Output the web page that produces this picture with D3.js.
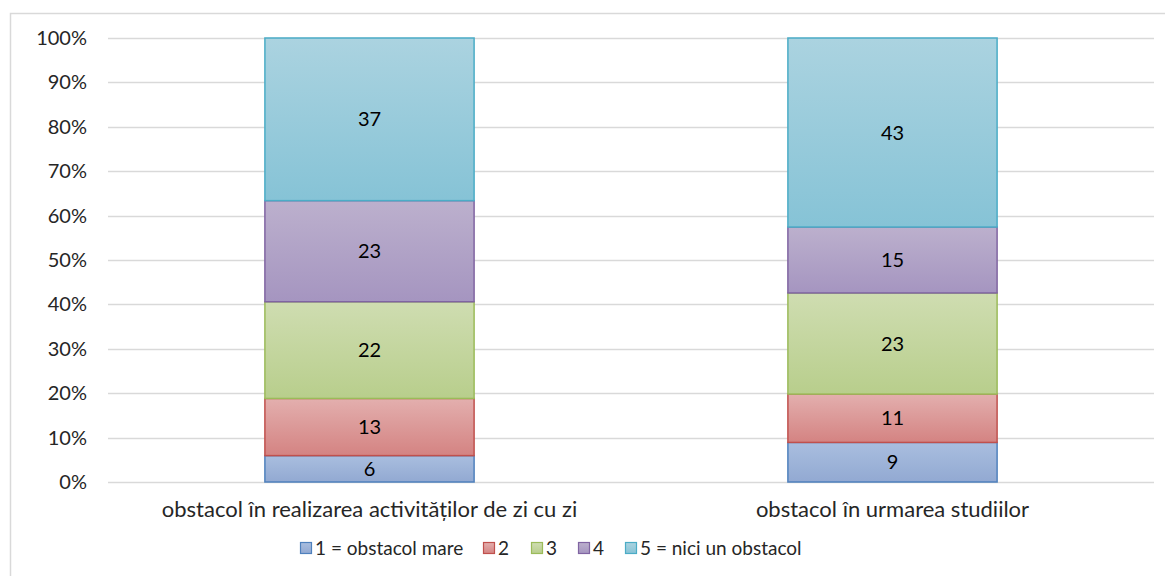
<!DOCTYPE html>
<html>
<head>
<meta charset="utf-8">
<script src="https://cdn.jsdelivr.net/npm/d3@7"></script>
<style>
  body { margin: 0; background: #fff; }
  svg { display: block; font-family: Lato, "Open Sans", sans-serif; }
</style>
</head>
<body>
<div id="chart"></div>
<script>
const categories = ["obstacol în realizarea activităților de zi cu zi", "obstacol în urmarea studiilor"];
const seriesNames = ["1 = obstacol mare", "2", "3", "4", "5 = nici un obstacol"];
const values1 = [6, 9];
const values2 = [13, 11];
const values3 = [22, 23];
const values4 = [23, 15];
const values5 = [37, 43];
const yTicks = [0, 0.1, 0.2, 0.3, 0.4, 0.5, 0.6, 0.7, 0.8, 0.9, 1];

const seriesColors = [
  { top: "#a9bedf", bottom: "#92a9d2", stroke: "#4f81bd" },
  { top: "#e3afae", bottom: "#d48382", stroke: "#c0504d" },
  { top: "#cfddb1", bottom: "#b8ce8c", stroke: "#9bbb59" },
  { top: "#bcb0cd", bottom: "#a595c0", stroke: "#8064a2" },
  { top: "#abd3e0", bottom: "#86c3d6", stroke: "#4bacc6" }
];

const W = 1165, H = 576;
const margin = { top: 38, right: 11, bottom: 94, left: 108 };
const width = W - margin.left - margin.right;
const height = H - margin.top - margin.bottom;

const svg = d3.select("#chart").append("svg")
  .attr("width", W)
  .attr("height", H);

// outer chart border
svg.append("rect")
  .attr("x", 10.5).attr("y", 13.5)
  .attr("width", 1170).attr("height", 600)
  .attr("fill", "none")
  .attr("stroke", "#d9d9d9")
  .attr("stroke-width", 1.5);

const defs = svg.append("defs");
seriesColors.forEach((c, i) => {
  const g = defs.append("linearGradient")
    .attr("id", "grad" + i)
    .attr("x1", 0).attr("y1", 0).attr("x2", 0).attr("y2", 1);
  g.append("stop").attr("offset", "0%").attr("stop-color", c.top);
  g.append("stop").attr("offset", "100%").attr("stop-color", c.bottom);
});

const g = svg.append("g")
  .attr("transform", `translate(${margin.left},${margin.top})`);

const x = d3.scaleBand().domain(categories).range([0, width]).paddingInner(0.6).paddingOuter(0.3);
const y = d3.scaleLinear().domain([0, 1]).range([height, 0]);

// gridlines
g.selectAll(".grid")
  .data(yTicks)
  .enter().append("line")
  .attr("class", "grid")
  .attr("x1", 0).attr("x2", width)
  .attr("y1", d => Math.round(y(d)) + 0.5)
  .attr("y2", d => Math.round(y(d)) + 0.5)
  .attr("stroke", "#d9d9d9")
  .attr("stroke-width", 1.3);

// y axis labels
const yAxis = g.append("g")
  .call(d3.axisLeft(y).tickValues(yTicks).tickFormat(d3.format(".0%")).tickSize(0).tickPadding(21));
yAxis.select(".domain").remove();
yAxis.selectAll("text")
  .style("font-size", "20px")
  .style("font-family", "Lato, sans-serif")
  .attr("fill", "#262626");

// stacked data, normalised to 100%
const table = categories.map((c, i) => {
  const row = { cat: c };
  [values1, values2, values3, values4, values5].forEach((arr, k) => { row[seriesNames[k]] = arr[i]; });
  return row;
});
const stack = d3.stack().keys(seriesNames).offset(d3.stackOffsetExpand);
const layers = stack(table);

const layerG = g.selectAll(".layer")
  .data(layers)
  .enter().append("g")
  .attr("class", "layer");

layerG.selectAll("rect")
  .data((d, i) => d.map(p => ({ p: p, i: i })))
  .enter().append("rect")
  .attr("x", d => x(d.p.data.cat))
  .attr("y", d => y(d.p[1]))
  .attr("width", x.bandwidth())
  .attr("height", d => y(d.p[0]) - y(d.p[1]))
  .attr("fill", d => `url(#grad${d.i})`)
  .attr("stroke", d => seriesColors[d.i].stroke)
  .attr("stroke-width", 1.5);

layerG.selectAll("text")
  .data((d, i) => d.map(p => ({ p: p, key: layers[i].key })))
  .enter().append("text")
  .attr("x", d => x(d.p.data.cat) + x.bandwidth() / 2)
  .attr("y", d => (y(d.p[0]) + y(d.p[1])) / 2)
  .attr("dy", "0.35em")
  .attr("text-anchor", "middle")
  .style("font-size", "20px")
  .attr("fill", "#000")
  .text(d => d.p.data[d.key]);

// x axis labels
const xAxis = g.append("g")
  .attr("transform", `translate(0,${height})`)
  .call(d3.axisBottom(x).tickSize(0).tickPadding(19));
xAxis.select(".domain").remove();
xAxis.selectAll("text")
  .style("font-size", "22px")
  .style("font-family", "Lato, sans-serif")
  .attr("fill", "#262626");

// legend
const legend = svg.append("g").attr("transform", `translate(300, 542)`);
const offsets = [0, 183, 231, 278, 325];
const items = legend.selectAll(".legend-item")
  .data(seriesNames)
  .enter().append("g")
  .attr("class", "legend-item")
  .attr("transform", (d, i) => `translate(${offsets[i]},0)`);
items.append("rect")
  .attr("x", 0.5).attr("y", 0.5)
  .attr("width", 11).attr("height", 11)
  .attr("fill", (d, i) => `url(#grad${i})`)
  .attr("stroke", (d, i) => seriesColors[i].stroke)
  .attr("stroke-width", 1.2);
items.append("text")
  .attr("x", 15)
  .attr("y", 6)
  .attr("dy", "0.35em")
  .style("font-size", "19px")
  .attr("fill", "#262626")
  .text(d => d);
</script>
</body>
</html>
